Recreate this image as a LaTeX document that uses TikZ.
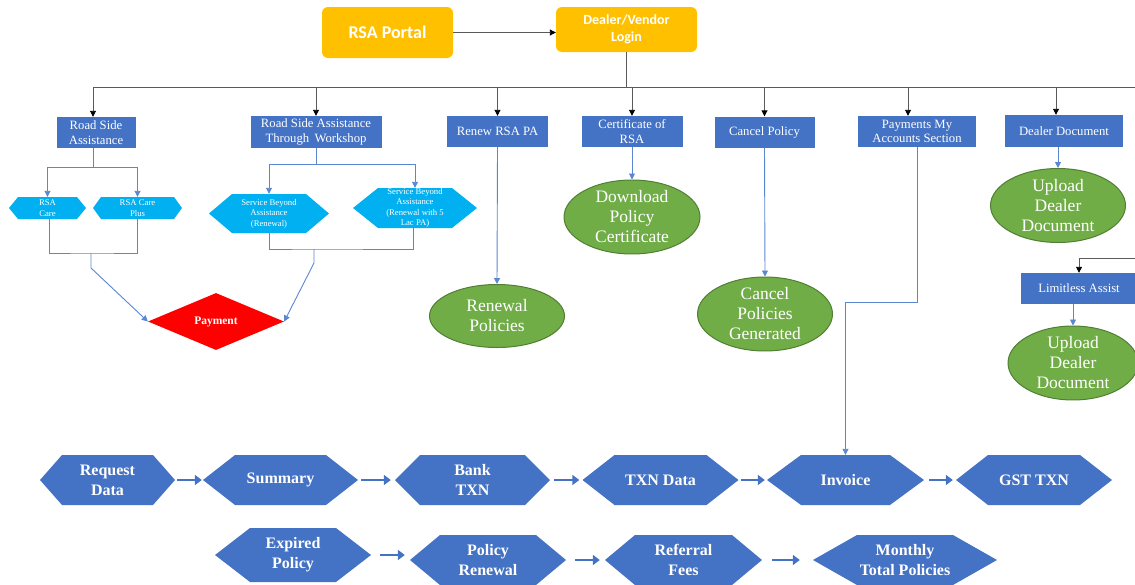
\documentclass[tikz,border=0pt]{standalone}
\usepackage{fontspec}
\setmainfont{Liberation Serif}
\newfontfamily\calibfont{Carlito}
\usetikzlibrary{shapes.geometric,arrows.meta,calc}

\definecolor{boxblue}{HTML}{4472C4}
\definecolor{skyblue}{HTML}{00B0F0}
\definecolor{leaf}{HTML}{70AD47}
\definecolor{leafdark}{HTML}{507E32}
\definecolor{gold}{HTML}{FFC000}
\definecolor{busgray}{HTML}{5A5A5A}
\definecolor{linkblue}{HTML}{5B86D2}

% hexagon with pointed left/right ends and a named text node on top
% #1 style, #2 name, #3 cx, #4 cy, #5 half width, #6 half height, #7 tip inset, #8 text
\newcommand{\hexnode}[8]{%
  \fill[#1] ({#3-#5},{#4}) -- ({#3-#5+#7},{#4-#6}) -- ({#3+#5-#7},{#4-#6})
    -- ({#3+#5},{#4}) -- ({#3+#5-#7},{#4+#6}) -- ({#3-#5+#7},{#4+#6}) -- cycle;
  \node[#1, fill=none, inner sep=0pt, align=center,
        minimum width={2*#5}, minimum height={2*#6}] (#2) at (#3,#4) {#8};}

\tikzset{
  portal/.style={rectangle, rounded corners=6pt, fill=gold, text=white, inner sep=0pt,
    align=center},
  menubox/.style={rectangle, fill=boxblue, text=white, inner sep=0pt, align=center,
    font=\fontsize{12.7}{14.5}\selectfont},
  outcome/.style={ellipse, fill=leaf, draw=leafdark, line width=1pt, text=white,
    inner sep=0pt, align=center, font=\fontsize{17.5}{20}\selectfont},
  lighthex/.style={fill=skyblue, text=white, font=\fontsize{8.7}{10.5}\selectfont},
  darkhex/.style={fill=boxblue, text=white, font=\fontsize{16}{20}\selectfont\bfseries},
  bus/.style={draw=busgray, line width=0.9pt},
  busdrop/.style={bus, -{Triangle[length=6pt,width=6pt,color=black]}},
  link/.style={draw=linkblue, line width=0.9pt},
  linkarrow/.style={link, -{Triangle[length=6pt,width=6pt]}},
  flow/.style={draw=boxblue, line width=2.6pt, -{Triangle[length=7pt,width=10pt]}},
}

\begin{document}
\begin{tikzpicture}[x=1pt,y=-1pt]
\useasboundingbox (0,0) rectangle (1135,584);
\clip (0,0) rectangle (1135,584);

% entry points
\node[portal, minimum width=131, minimum height=51,
      font=\calibfont\bfseries\fontsize{18}{21}\selectfont] (portal) at (387.5,32.5) {RSA Portal};
\node[portal, minimum width=141, minimum height=45,
      font=\calibfont\bfseries\fontsize{14}{17}\selectfont] (dealer) at (626.5,29.5) {Dealer/Vendor\\Login};
\draw[busdrop] (portal.east) -- (portal.east -| dealer.west);

% menu of the dealer login
\node[menubox, minimum width=79,  minimum height=31] (rsa)    at (96,132.5)   {Road Side\\Assistance};
\node[menubox, minimum width=131, minimum height=32] (work)   at (316,132)    {Road Side Assistance\\Through\, Workshop};
\node[menubox, minimum width=101, minimum height=31] (renew)  at (497.5,131.5){Renew RSA PA};
\node[menubox, minimum width=101, minimum height=31] (cert)   at (632,131.5)  {Certificate of\\RSA};
\node[menubox, minimum width=100, minimum height=31] (cancel) at (764.5,132)  {Cancel Policy};
\node[menubox, minimum width=118, minimum height=31] (paym)   at (917,131.5)  {Payments My\\Accounts Section};
\node[menubox, minimum width=118, minimum height=32] (ddoc)   at (1064,131)   {Dealer Document};
\node[menubox, minimum width=116, minimum height=31] (lim)    at (1079,288.5) {Limitless Assist};

\coordinate (busY) at (0,87);
\coordinate (busEnd) at (1135,87);
\coordinate (limIn) at (1135,258);
\draw[bus] (dealer.south) -- (dealer.south |- busY);
\draw[bus] ([xshift=-3pt]rsa.north |- busY) -- (busEnd);
\foreach \n/\dx in {rsa/-3, work/0, renew/0, cert/0, cancel/0, paym/-9, ddoc/-8}
  \draw[busdrop] ([xshift=\dx pt]\n.north |- busY) -- ([xshift=\dx pt]\n.north);
\draw[busdrop] (limIn) -| (lim.north);

% road side assistance plans
\hexnode{lighthex}{care}{47.5}{208}{38.5}{11}{9}{RSA\\Care}
\hexnode{lighthex}{careplus}{137.5}{208}{44.5}{11}{8}{RSA Care\\Plus}
\hexnode{lighthex}{sba1}{269}{213.5}{60}{19.5}{23}{Service Beyond\\Assistance\\(Renewal)}
\hexnode{lighthex}{sba2}{415}{208}{62}{20}{25}{Service Beyond\\Assistance\\(Renewal with 5\\Lac PA)}

\node[diamond, fill=red, text=white, inner sep=0pt, minimum width=136, minimum height=57,
      font=\fontsize{11.5}{13}\selectfont\bfseries] (payment) at (216,321.5) {Payment};

\draw[link] ([xshift=-3pt]rsa.south) -- ++(0,19) coordinate (rsaJ);
\draw[linkarrow] (rsaJ) -| (care.north);
\draw[linkarrow] (rsaJ) -| (careplus.north);
\coordinate (m1) at (91,253);
\draw[link] ([xshift=2pt]care.south) |- (m1) -| (careplus.south);
\draw[linkarrow] (m1) -- ++(0,15) -- (payment.west);

\draw[link] (work.south) -- ++(0,16) coordinate (workJ);
\draw[linkarrow] (workJ) -| (sba1.north);
\draw[linkarrow] (workJ) -| (sba2.north);
\coordinate (m2) at (314,249);
\draw[link] (sba1.south) |- (m2) -| ([xshift=-2pt]sba2.south);
\draw[linkarrow] (m2) -- ++(0,14) -- (payment.east);

% outcomes
\node[outcome, minimum width=135, minimum height=63] (renpol) at (497,316)   {Renewal\\Policies};
\node[outcome, minimum width=136, minimum height=64] (dlcert) at (632,217)   {Download\\Policy\\Certificate};
\node[outcome, minimum width=135, minimum height=64] (cangen) at (765,314)   {Cancel\\Policies\\Generated};
\node[outcome, minimum width=135, minimum height=63] (up1)    at (1058,205.5){Upload\\Dealer\\Document};
\node[outcome, minimum width=130, minimum height=62] (up2)    at (1073,363)  {Upload\\Dealer\\Document};

\draw[linkarrow] (renew.south) -- (renpol.north);
\draw[linkarrow] (cert.south) -- (dlcert.north);
\draw[linkarrow] (cancel.south) -- (cangen.north);
\draw[linkarrow] (up1.north |- ddoc.south) -- (up1.north);
\draw[linkarrow] (up2.north |- lim.south) -- (up2.north);

% accounts flow
\hexnode{darkhex}{rd}{107.5}{480}{67.5}{25}{22}{Request\\Data}
\hexnode{darkhex}{sum}{280.5}{480}{77.5}{25}{32}{Summary}
\hexnode{darkhex}{bank}{472.5}{480}{77.5}{25}{25}{Bank\\TXN}
\hexnode{darkhex}{txn}{660.5}{480}{78}{25}{32}{TXN Data}
\hexnode{darkhex}{inv}{845.5}{480}{78.5}{25}{34}{Invoice}
\hexnode{darkhex}{gst}{1034}{480}{78}{25}{32}{GST TXN}

\hexnode{darkhex}{exp}{293}{555}{78}{27}{35}{Expired\\Policy}
\hexnode{darkhex}{ren}{488}{560}{78}{25}{30}{Policy\\Renewal}
\hexnode{darkhex}{ref}{683.5}{560}{78.5}{25}{30}{Referral\\Fees}
\hexnode{darkhex}{mon}{905}{560}{92}{25}{44}{Monthly\\Total Policies}

\draw[flow] ([xshift=2pt]rd.east) -- ([xshift=-1pt]sum.west);
\draw[flow] ([xshift=3pt]sum.east) -- ([xshift=-4pt]bank.west);
\draw[flow] ([xshift=4pt]bank.east) -- ([xshift=-3pt]txn.west);
\draw[flow] ([xshift=2pt]txn.east) -- ([xshift=-2pt]inv.west);
\draw[flow] ([xshift=5pt]inv.east) -- ([xshift=-3pt]gst.west);
\draw[flow] ([xshift=9pt]exp.east) -- ([xshift=-5pt]exp.east -| ren.west);
\draw[flow] ([xshift=9pt]ren.east) -- ([xshift=-5pt]ref.west);
\draw[flow] ([xshift=10pt]ref.east) -- ([xshift=-13pt]mon.west);

\coordinate (payY) at (0,302);
\draw[linkarrow] (paym.south) -- (paym.south |- payY) -| (inv.north);
\end{tikzpicture}
\end{document}
